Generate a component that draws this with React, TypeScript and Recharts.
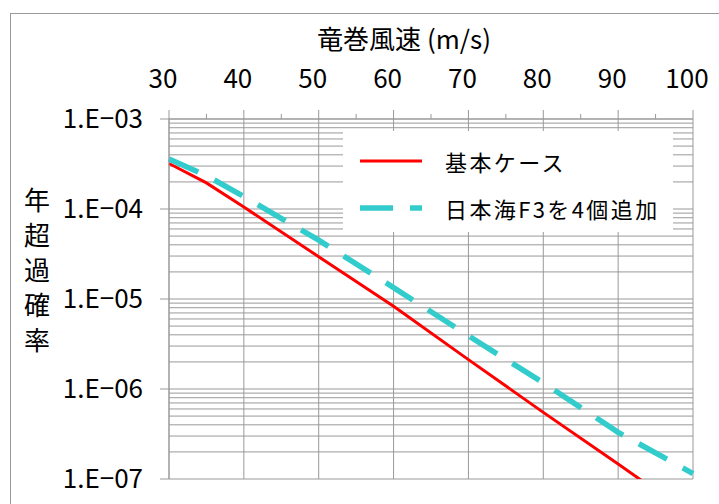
import { LineChart, Line, XAxis, YAxis, CartesianGrid, Legend } from "recharts"

// 竜巻風速 (m/s)
const speeds = [30, 35, 40, 50, 60, 70, 80, 90, 100]
// 年超過確率
const baseCase = [3.2e-4, 1.95e-4, 1.05e-4, 2.95e-5, 8.3e-6, 2.12e-6, 5.5e-7, 1.47e-7, 3.8e-8]
const withF3 = [3.6e-4, 2.35e-4, 1.38e-4, 4.5e-5, 1.34e-5, 3.9e-6, 1.17e-6, 3.3e-7, 1.15e-7]

const seriesNames = ["基本ケース", "日本海F3を4個追加"]
const xTicks = [30, 35, 40, 45, 50, 55, 60, 65, 70, 75, 80, 85, 90, 95, 100]
const xGrid = [30, 40, 50, 60, 70, 80, 90, 100]
const decades = [1e-7, 1e-6, 1e-5, 1e-4, 1e-3]
const multiples = [1, 2, 3, 4, 5, 6, 7, 8, 9]
const yLabelChars = ["年", "超", "過", "確", "率"]

const data = speeds.map((s, i) => ({ speed: s, base: baseCase[i], f3: withF3[i] }))
const yTicks = decades.flatMap((d) => (d === 1e-3 ? [d] : multiples.map((m) => +(m * d).toPrecision(3))))

const FONT = '"Noto Sans CJK JP", "Noto Sans", sans-serif'
const RED = "#ff0000"
const CYAN = "#33cccc"
const GRID = "#999999"

const isDecade = (v: number) => {
  const e = Math.round(Math.log10(v))
  return Math.abs(v / Math.pow(10, e) - 1) < 1e-6
}

const fmtY = (v: number) => {
  const e = Math.round(Math.log10(v))
  return "1.E\u2212" + String(Math.abs(e)).padStart(2, "0")
}

const XTick = (props: any) => {
  const { x, y, payload } = props
  const major = payload.value % 10 === 0
  return (
    <g>
      <line x1={x} x2={x} y1={y + (major ? 22 : 26)} y2={y + 31} stroke={GRID} />
      {major && (
        <text x={x - 6} y={y} textAnchor="middle" fontFamily={FONT} fontSize={26} fill="#000">
          {payload.value}
        </text>
      )}
    </g>
  )
}

const YTick = (props: any) => {
  const { x, y, payload } = props
  if (!isDecade(payload.value)) return <g />
  return (
    <g>
      <line x1={x + 17} x2={x + 26} y1={y} y2={y} stroke={GRID} />
      <text x={x} y={y + 9} textAnchor="end" fontFamily={FONT} fontSize={26} fill="#000">
        {fmtY(payload.value)}
      </text>
    </g>
  )
}

const Title = () => (
  <text x={404} y={49} textAnchor="middle" fontFamily={FONT} fontSize={26} fill="#000">
    竜巻風速 (m/s)
  </text>
)

const YTitle = () => (
  <g>
    {yLabelChars.map((c, i) => (
      <text key={c} x={37} y={210 + i * 35} textAnchor="middle" fontFamily={FONT} fontSize={26} fill="#000">
        {c}
      </text>
    ))}
  </g>
)

const LegendBox = () => (
  <div style={{ width: 330, height: 101, background: "#fff", position: "relative", fontFamily: FONT, fontSize: 22, letterSpacing: 2.4, color: "#000" }}>
    <svg width={90} height={101} style={{ position: "absolute", left: 0, top: 0 }}>
      <line x1={17} x2={79} y1={30} y2={30} stroke={RED} strokeWidth={3} />
      <line x1={17} x2={79} y1={77} y2={77} stroke={CYAN} strokeWidth={5.5} strokeDasharray="33 17" />
    </svg>
    <div style={{ position: "absolute", left: 102, top: 14, lineHeight: "32px", whiteSpace: "nowrap" }}>{seriesNames[0]}</div>
    <div style={{ position: "absolute", left: 102, top: 61, lineHeight: "32px", whiteSpace: "nowrap" }}>{seriesNames[1]}</div>
  </div>
)

const App = () => {
  return (
    <div style={{ position: "absolute", left: 0, top: 0, width: 719, height: 504, background: "#fff", overflow: "hidden" }}>
      <div style={{ position: "absolute", left: 10, top: 13, width: 720, height: 500, borderLeft: "1px solid #999", borderTop: "1px solid #999" }} />
      <LineChart width={719} height={504} data={data} margin={{ top: 59, right: 26, bottom: 25, left: 69 }}>
        <CartesianGrid stroke={GRID} verticalValues={xGrid} />
        <XAxis
          dataKey="speed"
          type="number"
          orientation="top"
          domain={[30, 100]}
          ticks={xTicks}
          interval={0}
          height={60}
          tickSize={9}
          tickMargin={22}
          tickLine={false}
          axisLine={{ stroke: GRID }}
          tick={<XTick />}
          label={{ content: () => <Title /> }}
        />
        <YAxis
          type="number"
          scale="log"
          domain={[1e-7, 1e-3]}
          allowDataOverflow
          ticks={yTicks}
          interval={0}
          width={100}
          tickSize={9}
          tickMargin={17}
          tickLine={false}
          axisLine={{ stroke: GRID }}
          tick={<YTick />}
          label={{ content: () => <YTitle /> }}
        />
        <Legend
          layout="horizontal"
          verticalAlign="middle"
          align="center"
          content={<LegendBox />}
          wrapperStyle={{ left: 343, top: 131, width: 330, height: 101 }}
        />
        <Line type="linear" dataKey="base" name={seriesNames[0]} stroke={RED} strokeWidth={3} dot={false} isAnimationActive={false} />
        <Line type="linear" dataKey="f3" name={seriesNames[1]} stroke={CYAN} strokeWidth={5.5} strokeDasharray="32 18" dot={false} isAnimationActive={false} />
      </LineChart>
    </div>
  )
}

export default App
